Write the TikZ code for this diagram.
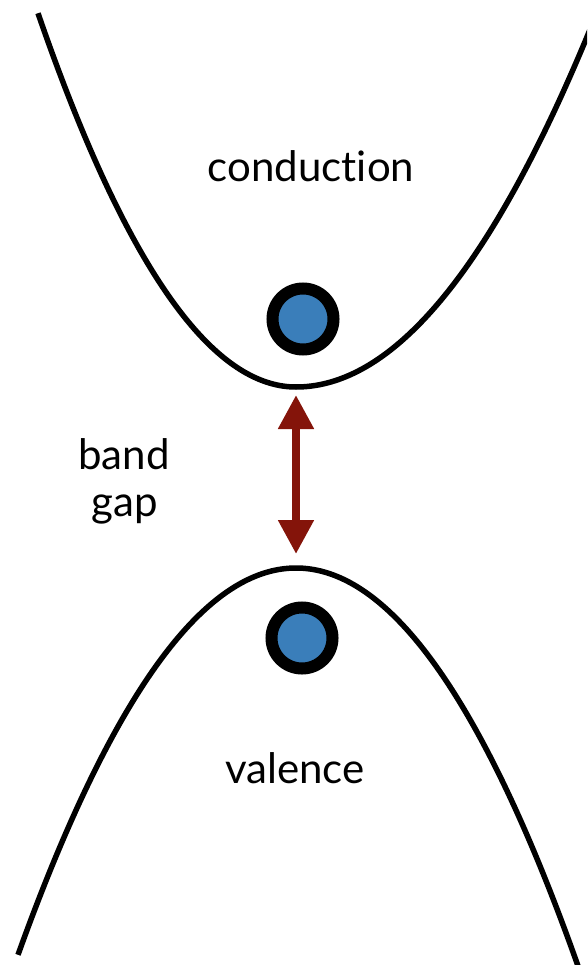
\documentclass[tikz,border=0pt]{standalone}
\usepackage{fontspec}
\setmainfont{Lato}[Ligatures={NoCommon,NoContextual}]
\usetikzlibrary{arrows.meta,shadows.blur}
\definecolor{dotblue}{RGB}{58,126,186}
\definecolor{gapred}{RGB}{132,20,10}
\tikzset{
  band/.style={line width=5.5pt, black},
  electron/.style={circle, draw=black, line width=12pt, fill=dotblue,
    minimum size=61pt, inner sep=0pt,
    blur shadow={shadow xshift=1pt, shadow yshift=-4pt, shadow opacity=25, shadow blur steps=6}},
  label/.style={font=\fontsize{42}{47}\selectfont, anchor=base, inner sep=0pt},
  gaparrow/.style={gapred, line width=8pt,
    {Triangle[length=34pt,width=34pt]}-{Triangle[length=34pt,width=34pt]}}
}
\begin{document}
\begin{tikzpicture}[x=1pt, y=-1pt]
  \useasboundingbox (0,0) rectangle (587,965);
  \begin{scope}
    \clip (0,0) rectangle (587,965);
    % conduction band: steeper on the left than on the right
    \draw[band] plot[domain=38:296, samples=80, smooth] (\x, {387-0.00562*(\x-296)*(\x-296)})
                -- plot[domain=296:600, samples=80, smooth] (\x, {387-0.00414*(\x-296)*(\x-296)});
    % valence band
    \draw[band] plot[domain=18:582, samples=120, smooth] (\x, {568+0.005*(\x-296)*(\x-296)});
  \end{scope}
  \coordinate (cbmin) at (296,387);
  \coordinate (vbmax) at (296,568);

  \node[electron] (eup) at (303,319) {};
  \node[electron] (edown) at (302,638) {};

  \draw[gaparrow, shorten <=8pt, shorten >=14pt] (cbmin) -- (vbmax);

  \node[label] (cond) at (311,182) {conduction};
  \node[label] (band) at (124,469) {band};
  \node[label] (gap) at (125,516) {gap};
  \node[label] (val) at (295,783) {valence};
\end{tikzpicture}
\end{document}
